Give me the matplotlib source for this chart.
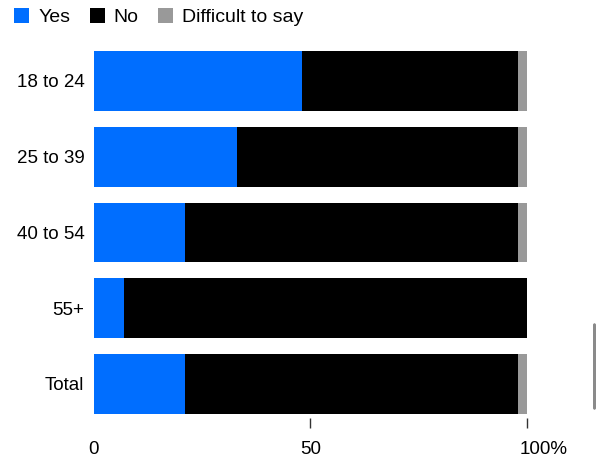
import matplotlib
matplotlib.use("Agg")
import matplotlib.pyplot as plt
import matplotlib.transforms as mtransforms
from matplotlib.patches import Patch, FancyBboxPatch
import numpy as np

plt.rcParams['font.family'] = ['Liberation Sans', 'DejaVu Sans']

# Share of respondents by age group (%)
groups = ["18 to 24", "25 to 39", "40 to 54", "55+", "Total"]
yes = [48, 33, 21, 7, 21]
no = [50, 65, 77, 93, 77]
difficult = [2, 2, 2, 0, 2]

series_names = ["Yes", "No", "Difficult to say"]
colors = ["#006EFF", "#000000", "#999999"]

fig = plt.figure(figsize=(5.96, 4.63), dpi=100)
ax = fig.add_axes([0.1577, 0.0972, 0.7265, 0.8099])

y = np.arange(len(groups))
left = np.zeros(len(groups))
for vals, c in zip([yes, no, difficult], colors):
    ax.barh(y, vals, left=left, height=0.79, color=c, linewidth=0)
    left += np.array(vals)

ax.set_xlim(0, 100)
ax.set_ylim(4.449, -0.5)
ax.set_yticks(y)
ax.set_yticklabels(groups, fontsize=13.5)
ax.set_xticks([0, 50, 100])
ax.set_xticklabels(["0", "50", "100%"], fontsize=13.5)
for s in ax.spines.values():
    s.set_visible(False)
ax.tick_params(axis='y', length=0, pad=7)
ax.tick_params(axis='x', length=7.5, width=1, color="#333333", pad=9)
ax.xaxis.get_major_ticks()[0].tick1line.set_visible(False)

# "100%" starts just left of its tick
lbl = ax.get_xticklabels()[2]
lbl.set_horizontalalignment('left')
lbl.set_transform(lbl.get_transform() +
                  mtransforms.ScaledTranslation(-7 / 100, 0, fig.dpi_scale_trans))

handles = [Patch(facecolor=c, edgecolor='none') for c in colors]
fig.legend(handles, series_names, loc='upper left', ncol=3,
           bbox_to_anchor=(14 / 596, 1 - 8 / 463), bbox_transform=fig.transFigure,
           frameon=False, fontsize=14, handlelength=0.78, handleheight=0.78,
           handletextpad=0.46, columnspacing=1.0, borderpad=0, borderaxespad=0)

# scroll indicator on the right edge
fig.patches.append(FancyBboxPatch((593 / 596, 1 - 410 / 463), 3 / 596, 87 / 463,
                                  boxstyle="round,pad=0,rounding_size=0.004",
                                  transform=fig.transFigure, facecolor="#8a8a8a",
                                  edgecolor='none'))

fig.savefig("out.png", dpi=100)
